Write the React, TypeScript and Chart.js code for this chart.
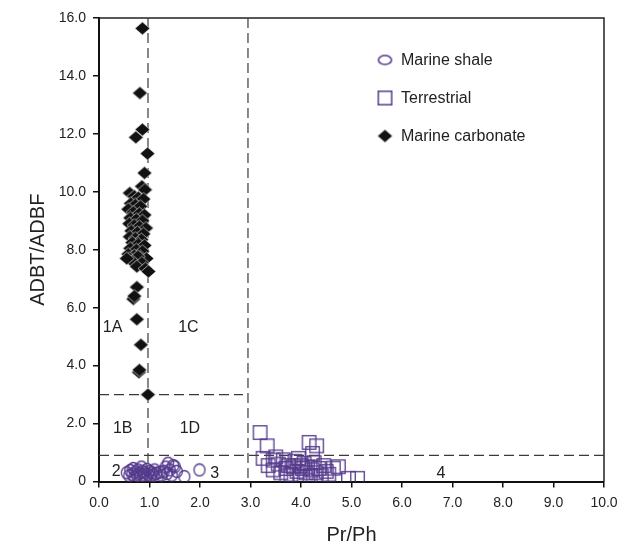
import React, { useEffect, useRef } from 'react';
import { Chart, registerables } from 'chart.js';

Chart.register(...registerables);

// Pr/Ph vs ADBT/ADBF samples
const marineShale: { x: number; y: number }[] = [
  { x: 0.55, y: 0.30 }, { x: 0.60, y: 0.20 }, { x: 0.62, y: 0.38 }, { x: 0.66, y: 0.25 },
  { x: 0.68, y: 0.45 }, { x: 0.70, y: 0.15 }, { x: 0.72, y: 0.33 }, { x: 0.75, y: 0.22 },
  { x: 0.77, y: 0.40 }, { x: 0.80, y: 0.28 }, { x: 0.82, y: 0.18 }, { x: 0.84, y: 0.50 },
  { x: 0.86, y: 0.35 }, { x: 0.88, y: 0.22 }, { x: 0.90, y: 0.30 }, { x: 0.93, y: 0.12 },
  { x: 0.95, y: 0.42 }, { x: 0.97, y: 0.25 }, { x: 1.00, y: 0.35 }, { x: 1.02, y: 0.18 },
  { x: 1.05, y: 0.30 }, { x: 1.08, y: 0.22 }, { x: 1.10, y: 0.40 }, { x: 1.13, y: 0.28 },
  { x: 1.16, y: 0.15 }, { x: 1.20, y: 0.32 }, { x: 1.24, y: 0.22 }, { x: 1.28, y: 0.35 },
  { x: 1.32, y: 0.50 }, { x: 1.35, y: 0.28 }, { x: 1.37, y: 0.63 }, { x: 1.40, y: 0.40 },
  { x: 1.44, y: 0.22 }, { x: 1.47, y: 0.55 }, { x: 1.50, y: 0.51 }, { x: 1.54, y: 0.35 },
  { x: 1.69, y: 0.17 }, { x: 1.99, y: 0.40 },
];

const terrestrial: { x: number; y: number }[] = [
  { x: 3.19, y: 1.69 }, { x: 3.33, y: 1.23 }, { x: 3.25, y: 0.80 }, { x: 3.45, y: 0.74 },
  { x: 4.16, y: 1.35 }, { x: 4.31, y: 1.23 }, { x: 4.23, y: 0.97 },
  { x: 3.35, y: 0.55 }, { x: 3.45, y: 0.40 }, { x: 3.55, y: 0.60 }, { x: 3.60, y: 0.30 },
  { x: 3.65, y: 0.75 }, { x: 3.70, y: 0.45 }, { x: 3.75, y: 0.55 }, { x: 3.80, y: 0.25 },
  { x: 3.85, y: 0.51 }, { x: 3.88, y: 0.70 }, { x: 3.92, y: 0.35 }, { x: 3.95, y: 0.80 },
  { x: 3.98, y: 0.17 }, { x: 4.00, y: 0.55 }, { x: 4.03, y: 0.45 }, { x: 4.06, y: 0.62 },
  { x: 4.10, y: 0.30 }, { x: 4.13, y: 0.50 }, { x: 4.18, y: 0.20 }, { x: 4.22, y: 0.40 },
  { x: 4.26, y: 0.65 }, { x: 4.30, y: 0.30 }, { x: 4.35, y: 0.45 }, { x: 4.40, y: 0.20 },
  { x: 4.45, y: 0.55 }, { x: 4.50, y: 0.35 }, { x: 4.55, y: 0.25 }, { x: 4.64, y: 0.46 },
  { x: 4.74, y: 0.51 }, { x: 4.94, y: 0.11 }, { x: 5.12, y: 0.11 }, { x: 3.50, y: 0.85 },
  { x: 3.72, y: 0.20 },
];

const marineCarbonate: { x: number; y: number }[] = [
  { x: 0.86, y: 15.64 }, { x: 0.81, y: 13.41 }, { x: 0.86, y: 12.15 }, { x: 0.73, y: 11.88 },
  { x: 0.96, y: 11.32 }, { x: 0.90, y: 10.65 }, { x: 0.85, y: 10.19 }, { x: 0.91, y: 10.07 },
  { x: 0.61, y: 9.96 },
  { x: 0.70, y: 9.85 }, { x: 0.78, y: 9.80 }, { x: 0.88, y: 9.75 }, { x: 0.63, y: 9.60 },
  { x: 0.72, y: 9.55 }, { x: 0.82, y: 9.50 }, { x: 0.58, y: 9.40 }, { x: 0.68, y: 9.30 },
  { x: 0.80, y: 9.25 }, { x: 0.90, y: 9.20 }, { x: 0.62, y: 9.10 }, { x: 0.74, y: 9.05 },
  { x: 0.86, y: 9.00 }, { x: 0.60, y: 8.90 }, { x: 0.70, y: 8.85 }, { x: 0.80, y: 8.80 },
  { x: 0.93, y: 8.75 }, { x: 0.64, y: 8.65 }, { x: 0.76, y: 8.60 }, { x: 0.88, y: 8.55 },
  { x: 0.61, y: 8.45 }, { x: 0.72, y: 8.40 }, { x: 0.84, y: 8.35 }, { x: 0.66, y: 8.25 },
  { x: 0.78, y: 8.20 }, { x: 0.90, y: 8.15 }, { x: 0.62, y: 8.05 }, { x: 0.74, y: 8.00 },
  { x: 0.86, y: 7.95 }, { x: 0.58, y: 7.85 }, { x: 0.70, y: 7.80 }, { x: 0.82, y: 7.75 },
  { x: 0.94, y: 7.70 }, { x: 0.61, y: 7.71 }, { x: 0.77, y: 7.77 }, { x: 0.66, y: 7.60 },
  { x: 0.85, y: 7.55 }, { x: 0.75, y: 7.42 }, { x: 0.92, y: 7.35 }, { x: 0.98, y: 7.25 },
  { x: 0.55, y: 7.70 },
  { x: 0.75, y: 6.71 }, { x: 0.68, y: 6.30 }, { x: 0.70, y: 6.40 }, { x: 0.75, y: 5.60 },
  { x: 0.83, y: 4.72 }, { x: 0.79, y: 3.77 }, { x: 0.80, y: 3.85 }, { x: 0.97, y: 3.00 },
];

const xTickValues = [0, 1, 2, 3, 4, 5, 6, 7, 8, 9, 10];
const yTickValues = [0, 2, 4, 6, 8, 10, 12, 14, 16];

// Field boundaries (data units)
const verticalBounds = [
  { x: 0.97, from: 0, to: 16 },
  { x: 2.95, from: 0, to: 16 },
];
const horizontalBounds = [
  { y: 3.0, from: 0, to: 2.85 },
  { y: 0.9, from: 0, to: 10 },
];

// Zone names (data units)
const zoneLabels = [
  { text: '1A', x: 0.27, y: 5.32 },
  { text: '1C', x: 1.77, y: 5.32 },
  { text: '1B', x: 0.47, y: 1.81 },
  { text: '1D', x: 1.8, y: 1.81 },
  { text: '2', x: 0.34, y: 0.34 },
  { text: '3', x: 2.29, y: 0.26 },
  { text: '4', x: 6.77, y: 0.26 },
];

const seriesNames = ['Marine shale', 'Terrestrial', 'Marine carbonate'];

const PURPLE = '#553a8c';
const FONT = '"Liberation Sans", Arial, sans-serif';

function makeEllipse(w: number, h: number, lw: number) {
  const c = document.createElement('canvas');
  c.width = Math.ceil(w + lw * 2);
  c.height = Math.ceil(h + lw * 2);
  const g = c.getContext('2d')!;
  g.strokeStyle = PURPLE;
  g.lineWidth = lw;
  g.beginPath();
  g.ellipse(c.width / 2, c.height / 2, w / 2, h / 2, 0, 0, Math.PI * 2);
  g.stroke();
  return c;
}

function makeDiamond(w: number, h: number) {
  const c = document.createElement('canvas');
  c.width = Math.ceil(w + 2);
  c.height = Math.ceil(h + 2);
  const g = c.getContext('2d')!;
  const cx = c.width / 2;
  const cy = c.height / 2;
  g.beginPath();
  g.moveTo(cx, cy - h / 2);
  g.lineTo(cx + w / 2, cy);
  g.lineTo(cx, cy + h / 2);
  g.lineTo(cx - w / 2, cy);
  g.closePath();
  g.fillStyle = '#111';
  g.fill();
  g.strokeStyle = 'rgba(255,255,255,0.85)';
  g.lineWidth = 0.7;
  g.stroke();
  return c;
}

function makeSquare(s: number, lw: number) {
  const c = document.createElement('canvas');
  c.width = Math.ceil(s + lw * 2);
  c.height = Math.ceil(s + lw * 2);
  const g = c.getContext('2d')!;
  g.strokeStyle = PURPLE;
  g.lineWidth = lw;
  g.strokeRect((c.width - s) / 2, (c.height - s) / 2, s, s);
  return c;
}

export default function App() {
  const ref = useRef<HTMLCanvasElement>(null);

  useEffect(() => {
    const circleImg = makeEllipse(11, 12, 1.3);
    const squareImg = makeSquare(13.5, 1.3);
    const diamondImg = makeDiamond(15, 13);
    const legendOval = makeEllipse(13, 9, 1.6);
    const legendSquare = makeSquare(13.5, 1.5);

    const overlay = {
      id: 'overlay',
      beforeDatasetsDraw(chart: any) {
        const { ctx, scales, chartArea } = chart;
        const xs = scales.x;
        const ys = scales.y;
        ctx.save();
        // frame on top and right
        ctx.strokeStyle = '#222';
        ctx.lineWidth = 1.5;
        ctx.beginPath();
        ctx.moveTo(chartArea.left, chartArea.top);
        ctx.lineTo(chartArea.right, chartArea.top);
        ctx.lineTo(chartArea.right, chartArea.bottom);
        ctx.stroke();
        // boundaries
        ctx.setLineDash([10, 5]);
        ctx.strokeStyle = '#3a3a3a';
        ctx.lineWidth = 1.2;
        verticalBounds.forEach((b) => {
          const px = xs.getPixelForValue(b.x);
          ctx.beginPath();
          ctx.moveTo(px, ys.getPixelForValue(b.to));
          ctx.lineTo(px, ys.getPixelForValue(b.from));
          ctx.stroke();
        });
        horizontalBounds.forEach((b) => {
          const py = ys.getPixelForValue(b.y);
          ctx.beginPath();
          ctx.moveTo(xs.getPixelForValue(b.from), py);
          ctx.lineTo(xs.getPixelForValue(b.to), py);
          ctx.stroke();
        });
        ctx.setLineDash([]);
        // zone names
        ctx.fillStyle = '#222';
        ctx.font = `16px ${FONT}`;
        ctx.textAlign = 'center';
        ctx.textBaseline = 'middle';
        zoneLabels.forEach((z) => {
          ctx.fillText(z.text, xs.getPixelForValue(z.x), ys.getPixelForValue(z.y));
        });
        ctx.restore();
      },
      afterDraw(chart: any) {
        const { ctx } = chart;
        ctx.save();
        const markers = [legendOval, legendSquare, diamondImg];
        const rowY = [60, 98, 136];
        const mx = 385;
        ctx.font = `16px ${FONT}`;
        ctx.fillStyle = '#222';
        ctx.textAlign = 'left';
        ctx.textBaseline = 'middle';
        seriesNames.forEach((name, i) => {
          const m = markers[i];
          ctx.drawImage(m, mx - m.width / 2, rowY[i] - m.height / 2);
          ctx.fillText(name, 401, rowY[i] + 1);
        });
        ctx.restore();
      },
    };

    const chart = new Chart(ref.current!, {
      type: 'scatter',
      data: {
        datasets: [
          {
            label: seriesNames[0],
            data: marineShale,
            pointStyle: circleImg as any,
            pointRadius: 6,
          },
          {
            label: seriesNames[1],
            data: terrestrial,
            pointStyle: squareImg as any,
            pointRadius: 7,
          },
          {
            label: seriesNames[2],
            data: marineCarbonate,
            pointStyle: diamondImg as any,
            pointRadius: 7,
          },
        ],
      },
      options: {
        responsive: false,
        animation: false,
        events: [],
        layout: { padding: { top: 18, right: 19, left: 0, bottom: 0 } },
        plugins: {
          legend: { display: false },
          tooltip: { enabled: false },
        },
        scales: {
          x: {
            type: 'linear',
            min: 0,
            max: 10,
            afterBuildTicks: (s: any) => {
              s.ticks = xTickValues.map((v) => ({ value: v }));
            },
            afterFit: (s: any) => {
              s.height = 63.5;
            },
            ticks: {
              callback: (v: any) => Number(v).toFixed(1),
              color: '#222',
              font: { size: 14, family: FONT, lineHeight: 1.7 },
              padding: 4,
              maxRotation: 0,
              autoSkip: false,
            },
            grid: { drawOnChartArea: false, drawTicks: true, tickLength: 6, color: '#111', lineWidth: 1.5 },
            border: { display: true, color: '#111', width: 2 },
            title: {
              display: true,
              text: 'Pr/Ph',
              color: '#222',
              font: { size: 20, family: FONT, lineHeight: 1 },
              padding: { top: 0, bottom: 0 },
            },
          },
          y: {
            type: 'linear',
            min: 0,
            max: 16,
            afterBuildTicks: (s: any) => {
              s.ticks = yTickValues.map((v) => ({ value: v }));
            },
            afterFit: (s: any) => {
              s.width = 99;
            },
            ticks: {
              callback: (v: any) => (Number(v) === 0 ? '0' : Number(v).toFixed(1)),
              color: '#222',
              font: { size: 14, family: FONT },
              padding: 7,
              autoSkip: false,
            },
            grid: { drawOnChartArea: false, drawTicks: true, tickLength: 6, color: '#111', lineWidth: 1.5 },
            border: { display: true, color: '#111', width: 2 },
            title: {
              display: true,
              text: 'ADBT/ADBF',
              color: '#222',
              font: { size: 20, family: FONT },
              padding: { top: 26, bottom: 0 },
            },
          },
        },
      },
      plugins: [overlay],
    });
    return () => chart.destroy();
  }, []);

  return (
    <div style={{ position: 'fixed', left: 0, top: 0, width: 623, height: 545, background: '#fff' }}>
      <canvas ref={ref} width={623} height={545} style={{ display: 'block' }} />
    </div>
  );
}
